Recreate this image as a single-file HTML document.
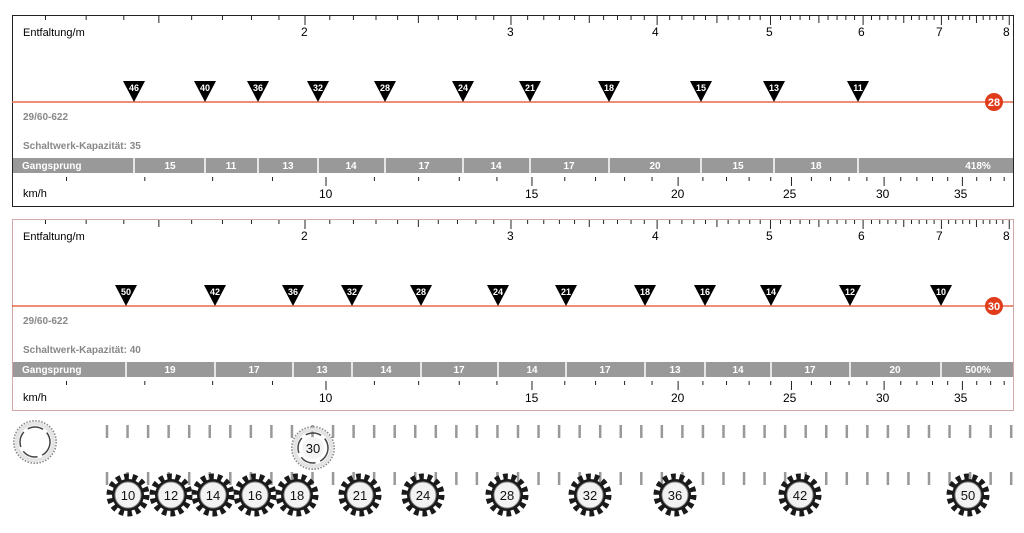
<!DOCTYPE html>
<html><head><meta charset="utf-8">
<style>
html,body{margin:0;padding:0;background:#fff;width:1024px;height:533px;overflow:hidden}
svg{display:block}
text{font-family:"Liberation Sans",Arial,sans-serif}
.lab{font-size:11px;fill:#000}
.num{font-size:12px;fill:#000}
.gray{font-size:10px;fill:#888;font-weight:bold}
.bar{font-size:10px;fill:#fff;font-weight:bold}
.tri{font-size:9px;fill:#fff;font-weight:bold}
.cog{font-size:13px;fill:#111}
</style></head><body>
<svg id="s" width="1024" height="533" viewBox="0 0 1024 533" xmlns="http://www.w3.org/2000/svg">
<defs>
<g id="cogshape">
<circle r="18" fill="none" stroke="#1a1a1a" stroke-width="7" stroke-dasharray="4.5 3.6"/>
<circle r="16" fill="#1a1a1a"/>
<circle r="13" fill="#f2f2f2" stroke="#888" stroke-width="1"/>
</g>
<g id="ring">
<circle r="21" fill="none" stroke="#888" stroke-width="2" stroke-dasharray="1.5 1.5"/>
<circle r="18.5" fill="none" stroke="#e4e4e4" stroke-width="4"/>
<circle r="15" fill="none" stroke="#444" stroke-width="1.5" stroke-dasharray="16 5"/>
</g>
</defs>
<g id="ticks"></g>

<!-- Panel 1 -->
<rect x="12.5" y="15.5" width="1001" height="191" fill="none" stroke="#222" stroke-width="1"/>
<text class="lab" x="23" y="36">Entfaltung/m</text>
<text class="num" x="301" y="36">2</text><text class="num" x="507" y="36">3</text><text class="num" x="652" y="36">4</text>
<text class="num" x="766" y="36">5</text><text class="num" x="858" y="36">6</text><text class="num" x="936" y="36">7</text><text class="num" x="1003" y="36">8</text>
<line x1="12" y1="102" x2="1013" y2="102" stroke="#e8684a" stroke-width="1.5"/>
<circle cx="994" cy="102" r="9" fill="#e03c1c"/><text x="994" y="106" text-anchor="middle" class="tri" style="font-size:11px">28</text>
<text class="gray" x="23" y="120">29/60-622</text>
<text class="gray" x="23" y="149">Schaltwerk-Kapazität: 35</text>
<rect x="13" y="158" width="1000" height="15" fill="#999"/>
<text class="bar" x="22" y="169">Gangsprung</text>
<text class="lab" x="23" y="197">km/h</text>
<text class="num" x="319" y="198">10</text><text class="num" x="525" y="198">15</text><text class="num" x="671" y="198">20</text>
<text class="num" x="783" y="198">25</text><text class="num" x="876" y="198">30</text><text class="num" x="954" y="198">35</text>

<!-- Panel 2 -->
<rect x="12.5" y="219.5" width="1001" height="191" fill="none" stroke="#a05050" stroke-width="1" stroke-dasharray="1 1"/>
<text class="lab" x="23" y="240">Entfaltung/m</text>
<text class="num" x="301" y="240">2</text><text class="num" x="507" y="240">3</text><text class="num" x="652" y="240">4</text>
<text class="num" x="766" y="240">5</text><text class="num" x="858" y="240">6</text><text class="num" x="936" y="240">7</text><text class="num" x="1003" y="240">8</text>
<line x1="12" y1="306" x2="1013" y2="306" stroke="#e8684a" stroke-width="1.5"/>
<circle cx="994" cy="306" r="9" fill="#e03c1c"/><text x="994" y="310" text-anchor="middle" class="tri" style="font-size:11px">30</text>
<text class="gray" x="23" y="324">29/60-622</text>
<text class="gray" x="23" y="353">Schaltwerk-Kapazität: 40</text>
<rect x="13" y="362" width="1000" height="15" fill="#999"/>
<text class="bar" x="22" y="373">Gangsprung</text>
<text class="lab" x="23" y="401">km/h</text>
<text class="num" x="319" y="402">10</text><text class="num" x="525" y="402">15</text><text class="num" x="671" y="402">20</text>
<text class="num" x="783" y="402">25</text><text class="num" x="876" y="402">30</text><text class="num" x="954" y="402">35</text>

<g>
<polygon points="123,81 145,81 134,102" fill="#000"/><text class="tri" x="134" y="91" text-anchor="middle">46</text>
<polygon points="194,81 216,81 205,102" fill="#000"/><text class="tri" x="205" y="91" text-anchor="middle">40</text>
<polygon points="247,81 269,81 258,102" fill="#000"/><text class="tri" x="258" y="91" text-anchor="middle">36</text>
<polygon points="307,81 329,81 318,102" fill="#000"/><text class="tri" x="318" y="91" text-anchor="middle">32</text>
<polygon points="374,81 396,81 385,102" fill="#000"/><text class="tri" x="385" y="91" text-anchor="middle">28</text>
<polygon points="452,81 474,81 463,102" fill="#000"/><text class="tri" x="463" y="91" text-anchor="middle">24</text>
<polygon points="519,81 541,81 530,102" fill="#000"/><text class="tri" x="530" y="91" text-anchor="middle">21</text>
<polygon points="598,81 620,81 609,102" fill="#000"/><text class="tri" x="609" y="91" text-anchor="middle">18</text>
<polygon points="690,81 712,81 701,102" fill="#000"/><text class="tri" x="701" y="91" text-anchor="middle">15</text>
<polygon points="763,81 785,81 774,102" fill="#000"/><text class="tri" x="774" y="91" text-anchor="middle">13</text>
<polygon points="847,81 869,81 858,102" fill="#000"/><text class="tri" x="858" y="91" text-anchor="middle">11</text>
</g>
<g stroke="#fff" stroke-width="1.5">
<line x1="134" y1="158" x2="134" y2="173"/><line x1="205" y1="158" x2="205" y2="173"/><line x1="258" y1="158" x2="258" y2="173"/>
<line x1="318" y1="158" x2="318" y2="173"/><line x1="385" y1="158" x2="385" y2="173"/><line x1="463" y1="158" x2="463" y2="173"/>
<line x1="530" y1="158" x2="530" y2="173"/><line x1="609" y1="158" x2="609" y2="173"/><line x1="701" y1="158" x2="701" y2="173"/>
<line x1="774" y1="158" x2="774" y2="173"/><line x1="858" y1="158" x2="858" y2="173"/>
</g>
<g class="bar" text-anchor="middle">
<text x="170" y="169">15</text><text x="231" y="169">11</text><text x="288" y="169">13</text><text x="351" y="169">14</text>
<text x="424" y="169">17</text><text x="496" y="169">14</text><text x="569" y="169">17</text><text x="655" y="169">20</text>
<text x="738" y="169">15</text><text x="816" y="169">18</text><text x="978" y="169">418%</text>
</g>

<g>
<polygon points="115,285 137,285 126,306" fill="#000"/><text class="tri" x="126" y="295" text-anchor="middle">50</text>
<polygon points="204,285 226,285 215,306" fill="#000"/><text class="tri" x="215" y="295" text-anchor="middle">42</text>
<polygon points="282,285 304,285 293,306" fill="#000"/><text class="tri" x="293" y="295" text-anchor="middle">36</text>
<polygon points="341,285 363,285 352,306" fill="#000"/><text class="tri" x="352" y="295" text-anchor="middle">32</text>
<polygon points="410,285 432,285 421,306" fill="#000"/><text class="tri" x="421" y="295" text-anchor="middle">28</text>
<polygon points="487,285 509,285 498,306" fill="#000"/><text class="tri" x="498" y="295" text-anchor="middle">24</text>
<polygon points="555,285 577,285 566,306" fill="#000"/><text class="tri" x="566" y="295" text-anchor="middle">21</text>
<polygon points="634,285 656,285 645,306" fill="#000"/><text class="tri" x="645" y="295" text-anchor="middle">18</text>
<polygon points="694,285 716,285 705,306" fill="#000"/><text class="tri" x="705" y="295" text-anchor="middle">16</text>
<polygon points="760,285 782,285 771,306" fill="#000"/><text class="tri" x="771" y="295" text-anchor="middle">14</text>
<polygon points="839,285 861,285 850,306" fill="#000"/><text class="tri" x="850" y="295" text-anchor="middle">12</text>
<polygon points="930,285 952,285 941,306" fill="#000"/><text class="tri" x="941" y="295" text-anchor="middle">10</text>
</g>
<g stroke="#fff" stroke-width="1.5">
<line x1="126" y1="362" x2="126" y2="377"/><line x1="215" y1="362" x2="215" y2="377"/><line x1="293" y1="362" x2="293" y2="377"/>
<line x1="352" y1="362" x2="352" y2="377"/><line x1="421" y1="362" x2="421" y2="377"/><line x1="498" y1="362" x2="498" y2="377"/>
<line x1="566" y1="362" x2="566" y2="377"/><line x1="645" y1="362" x2="645" y2="377"/><line x1="705" y1="362" x2="705" y2="377"/>
<line x1="771" y1="362" x2="771" y2="377"/><line x1="850" y1="362" x2="850" y2="377"/><line x1="941" y1="362" x2="941" y2="377"/>
</g>
<g class="bar" text-anchor="middle">
<text x="170" y="373">19</text><text x="254" y="373">17</text><text x="322" y="373">13</text><text x="386" y="373">14</text>
<text x="459" y="373">17</text><text x="532" y="373">14</text><text x="605" y="373">17</text><text x="675" y="373">13</text>
<text x="738" y="373">14</text><text x="810" y="373">17</text><text x="895" y="373">20</text><text x="978" y="373">500%</text>
</g>

<circle cx="35" cy="442" r="16" fill="#fff"/>
<use href="#ring" x="35" y="442"/>
<use href="#ring" x="313" y="448"/>
<circle cx="313" cy="448" r="11" fill="#f4f4f4"/>
<text class="cog" x="313" y="453" text-anchor="middle">30</text>
<g>
<use href="#cogshape" x="128" y="495"/><text class="cog" x="128" y="500" text-anchor="middle">10</text>
<use href="#cogshape" x="171" y="495"/><text class="cog" x="171" y="500" text-anchor="middle">12</text>
<use href="#cogshape" x="213" y="495"/><text class="cog" x="213" y="500" text-anchor="middle">14</text>
<use href="#cogshape" x="255" y="495"/><text class="cog" x="255" y="500" text-anchor="middle">16</text>
<use href="#cogshape" x="297" y="495"/><text class="cog" x="297" y="500" text-anchor="middle">18</text>
<use href="#cogshape" x="360" y="495"/><text class="cog" x="360" y="500" text-anchor="middle">21</text>
<use href="#cogshape" x="423" y="495"/><text class="cog" x="423" y="500" text-anchor="middle">24</text>
<use href="#cogshape" x="507" y="495"/><text class="cog" x="507" y="500" text-anchor="middle">28</text>
<use href="#cogshape" x="590" y="495"/><text class="cog" x="590" y="500" text-anchor="middle">32</text>
<use href="#cogshape" x="675" y="495"/><text class="cog" x="675" y="500" text-anchor="middle">36</text>
<use href="#cogshape" x="800" y="495"/><text class="cog" x="800" y="500" text-anchor="middle">42</text>
<use href="#cogshape" x="968" y="495"/><text class="cog" x="968" y="500" text-anchor="middle">50</text>
</g>
</svg>
<script>
(function(){
var NS="http://www.w3.org/2000/svg",g=document.getElementById("ticks");
function L(x1,y1,x2,y2,c,w){var l=document.createElementNS(NS,"line");l.setAttribute("x1",x1);l.setAttribute("y1",y1);l.setAttribute("x2",x2);l.setAttribute("y2",y2);l.setAttribute("stroke",c);l.setAttribute("stroke-width",w);g.appendChild(l);}
[0,204].forEach(function(o){
 for(var i=12;i<=80;i++){var v=i/10,x=305+508*Math.log(v/2);if(x<14||x>1012)continue;
  var len=(i%10==0)?9:(i%5==0)?7:4;L(x,16+o,x,16+o+len,"#222",1);}
 for(var k=6;k<=38;k++){var x=326+508*Math.log(k/10);if(x<14||x>1012)continue;
  var len=(k%5==0)?9:4;L(x,177+o,x,177+o+len,"#222",1);}
});
for(var x=107;x<=1012;x+=20.55){L(x,425,x,438,"#999",2.5);L(x,472,x,485,"#999",2.5);}
})();
</script>
</body></html>
